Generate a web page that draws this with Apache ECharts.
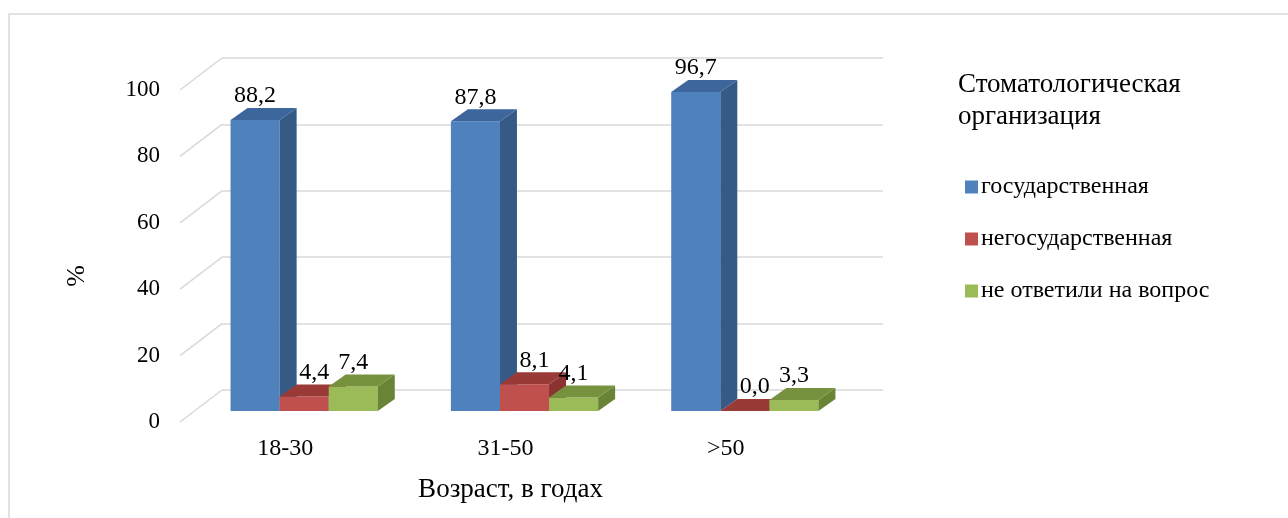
<!DOCTYPE html>
<html>
<head>
<meta charset="utf-8">
<script src="https://cdn.jsdelivr.net/npm/echarts@6/dist/echarts.min.js"></script>
<style>
  html, body { margin: 0; padding: 0; background: #ffffff; }
  #chart { width: 1288px; height: 518px; }
</style>
</head>
<body>
<div id="chart"></div>
<script>
// Age groups and share of answers (%)
const categories = ['18-30', '31-50', '>50'];
const seriesNames = ['государственная', 'негосударственная', 'не ответили на вопрос'];
const stateValues = [88.2, 87.8, 96.7];
const privateValues = [4.4, 8.1, 0.0];
const noAnswerValues = [7.4, 4.1, 3.3];
const yTicks = [0, 20, 40, 60, 80, 100];

const FONT = 'Liberation Serif, Times New Roman, serif';

// face colours: front, top, side
const palette = [
  { front: '#4f81bd', top: '#3c669c', side: '#365a86' },
  { front: '#c0504d', top: '#993a37', side: '#8a3331' },
  { front: '#9bbb59', top: '#77923e', side: '#6a8436' }
];

// depth of a box and of the whole plot (pixels)
const BOX_DX = 17, BOX_DY = -12;
const WALL_DX = 42, WALL_DY = -32;
const BAR_FRAC = 49 / 220;

function fmt(v) { return v.toFixed(1).replace('.', ','); }

function boxRenderer(sIdx) {
  return function (params, api) {
    const ci = api.value(0);
    const v = api.value(1);
    const base = api.coord([ci, 0]);
    const top = api.coord([ci, v]);
    const band = api.size([1, 0])[0];
    const bw = band * BAR_FRAC;
    const x0 = base[0] - 1.5 * bw + sIdx * bw;
    const x1 = x0 + bw;
    const yb = base[1], yt = top[1];
    const c = palette[sIdx];
    const nudge = sIdx === 1 ? 10 : 0;
    return {
      type: 'group',
      children: [
        { type: 'rect', shape: { x: x0, y: yt, width: bw, height: yb - yt }, style: { fill: c.front } },
        { type: 'polygon', shape: { points: [[x1, yt], [x1 + BOX_DX, yt + BOX_DY], [x1 + BOX_DX, yb + BOX_DY], [x1, yb]] }, style: { fill: c.side } },
        { type: 'polygon', shape: { points: [[x0, yt], [x1, yt], [x1 + BOX_DX, yt + BOX_DY], [x0 + BOX_DX, yt + BOX_DY]] }, style: { fill: c.top } },
        { type: 'text', x: (x0 + x1) / 2 + nudge, y: yt + BOX_DY - 12,
          style: { text: fmt(v), fill: '#000', font: '24px ' + FONT, align: 'center', verticalAlign: 'middle' } }
      ]
    };
  };
}

function series3d(name, values, idx) {
  return {
    name: name,
    type: 'custom',
    xAxisIndex: 1,
    yAxisIndex: 1,
    itemStyle: { color: palette[idx].front },
    encode: { x: 0, y: 1 },
    data: values.map((v, i) => [i, v]),
    renderItem: boxRenderer(idx),
    z: 3 + idx
  };
}

const chart = echarts.init(document.getElementById('chart'), null, { renderer: 'canvas' });

chart.setOption({
  animation: false,
  backgroundColor: '#ffffff',
  textStyle: { fontFamily: FONT },
  title: {
    text: 'Стоматологическая\nорганизация',
    left: 953,
    top: 64,
    textStyle: { fontFamily: FONT, fontSize: 27, fontWeight: 'normal', color: '#000', lineHeight: 32 }
  },
  legend: {
    orient: 'vertical',
    left: 960,
    top: 170,
    itemWidth: 13,
    itemHeight: 13,
    itemGap: 28,
    icon: 'rect',
    data: seriesNames,
    textStyle: { fontFamily: FONT, fontSize: 24, color: '#000', padding: [0, 0, 0, -2] }
  },
  graphic: [
    { type: 'rect', shape: { x: 9, y: 14, width: 1300, height: 520 }, style: { fill: 'none', stroke: '#d9d9d9', lineWidth: 1.5 }, silent: true },
    { type: 'text', x: 77, y: 276, rotation: Math.PI / 2,
      style: { text: '%', font: '26px ' + FONT, fill: '#000', align: 'center', verticalAlign: 'middle' } }
  ],
  grid: [
    // front edge of the floor: tick labels and category labels
    { left: 180, top: 90, width: 661, height: 332 },
    // plane of the bar fronts
    { left: 194, top: 81, width: 661, height: 330 },
    // back wall with gridlines
    { left: 222, top: 58, width: 661, height: 332 }
  ],
  xAxis: [
    {
      gridIndex: 0, type: 'category', data: categories,
      axisLine: { show: false }, axisTick: { show: false },
      axisLabel: { fontFamily: FONT, fontSize: 24, color: '#000', margin: 15, padding: [0, 10, 0, 0] },
      name: 'Возраст, в годах', nameLocation: 'middle', nameGap: 54,
      nameTextStyle: { fontFamily: FONT, fontSize: 27, color: '#000' }
    },
    { gridIndex: 1, type: 'category', data: categories, show: false },
    { gridIndex: 2, type: 'category', data: categories, show: false }
  ],
  yAxis: [
    {
      gridIndex: 0, type: 'value', min: 0, max: 100, interval: 20,
      axisLine: { show: false }, axisTick: { show: false }, splitLine: { show: false },
      axisLabel: { fontFamily: FONT, fontSize: 23, color: '#000', margin: 20 }
    },
    { gridIndex: 1, type: 'value', min: 0, max: 100, interval: 20, show: false, splitLine: { show: false } },
    {
      gridIndex: 2, type: 'value', min: 0, max: 100, interval: 20,
      axisLine: { show: false }, axisTick: { show: false }, axisLabel: { show: false },
      splitLine: { show: true, lineStyle: { color: '#d9d9d9', width: 1.5 } }
    }
  ],
  series: [
    {
      // side wall lines joining the front edge to the back wall
      type: 'custom',
      xAxisIndex: 0,
      yAxisIndex: 0,
      silent: true,
      data: yTicks.map(t => [0, t]),
      encode: { x: 0, y: 1 },
      renderItem: function (params, api) {
        const y = api.coord([0, api.value(1)])[1];
        const x = params.coordSys.x;
        return {
          type: 'line',
          shape: { x1: x, y1: y, x2: x + WALL_DX, y2: y + WALL_DY },
          style: { stroke: '#d9d9d9', lineWidth: 1.5 }
        };
      },
      z: 1
    },
    series3d(seriesNames[0], stateValues, 0),
    series3d(seriesNames[1], privateValues, 1),
    series3d(seriesNames[2], noAnswerValues, 2)
  ]
});
</script>
</body>
</html>
